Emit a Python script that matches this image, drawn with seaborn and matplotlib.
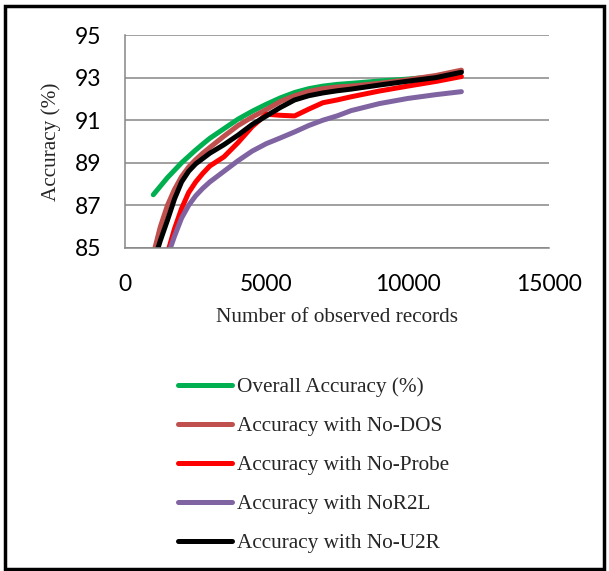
import numpy as np
import pandas as pd
import seaborn as sns
import matplotlib.pyplot as plt
from matplotlib.patches import Rectangle

# data
records = [1000, 1250, 1500, 1750, 2000, 2250, 2500, 2750, 3000, 3500, 4000, 4500,
           5000, 5500, 6000, 6500, 7000, 7500, 8000, 9000, 10000, 11000, 11900]
overall = [87.5, 87.9, 88.3, 88.65, 89.0, 89.3, 89.6, 89.88, 90.15, 90.6, 91.05, 91.42,
           91.75, 92.05, 92.3, 92.48, 92.6, 92.68, 92.73, 92.84, 92.93, 93.05, 93.3]
no_dos = [84.7, 86.0, 87.0, 87.75, 88.35, 88.8, 89.15, 89.45, 89.72, 90.25, 90.75, 91.15,
          91.5, 91.88, 92.15, 92.35, 92.48, 92.56, 92.6, 92.73, 92.9, 93.1, 93.35]
no_probe = [82.6, 83.8, 84.75, 85.9, 86.85, 87.6, 88.1, 88.5, 88.85, 89.28, 89.95, 90.7,
            91.28, 91.23, 91.2, 91.52, 91.82, 91.95, 92.1, 92.37, 92.6, 92.82, 93.05]
no_r2l = [82.3, 83.5, 84.6, 85.55, 86.4, 87.0, 87.45, 87.8, 88.1, 88.6, 89.1, 89.55,
          89.9, 90.17, 90.45, 90.75, 91.0, 91.2, 91.45, 91.78, 92.02, 92.2, 92.34]
no_u2r = [84.3, 85.35, 86.3, 87.3, 88.1, 88.6, 88.95, 89.2, 89.45, 89.85, 90.3, 90.8,
          91.2, 91.6, 91.95, 92.15, 92.28, 92.38, 92.46, 92.65, 92.83, 93.0, 93.25]

names = ['Overall Accuracy (%)', 'Accuracy with No-DOS', 'Accuracy with No-Probe',
         'Accuracy with NoR2L', 'Accuracy with No-U2R']
colors = ['#00B050', '#C0504D', '#FF0000', '#8064A2', '#000000']
series = [overall, no_dos, no_probe, no_r2l, no_u2r]

df = pd.DataFrame({
    'records': records * len(names),
    'accuracy': sum(series, []),
    'series': np.repeat(names, len(records)),
})

serif = 'Liberation Serif'

sns.set_style('white')
fig = plt.figure(figsize=(6.09, 5.71), dpi=100)
ax = fig.add_axes([0.2053, 0.5657, 0.6962, 0.3730])

sns.lineplot(data=df, x='records', y='accuracy', hue='series', hue_order=names,
             palette=colors, linewidth=3.6, ax=ax, legend=False)
for ln in ax.lines:
    ln.set_solid_capstyle('round')
    ln.set_solid_joinstyle('round')

ax.set_xlim(0, 15000)
ax.set_ylim(85, 95)
ax.set_xticks([0, 5000, 10000, 15000])
ax.set_yticks([85, 87, 89, 91, 93, 95])
ax.grid(axis='y', color='#868686', linewidth=1.1)
ax.set_axisbelow(True)
for side in ['top', 'right']:
    ax.spines[side].set_visible(False)
for side in ['left', 'bottom']:
    ax.spines[side].set_color('#868686')
    ax.spines[side].set_linewidth(1.1)
ax.tick_params(axis='both', direction='out', color='#868686', width=1.1,
               labelsize=16.5, labelcolor='black')
ax.tick_params(axis='y', length=7, pad=10)
ax.tick_params(axis='x', length=6, pad=13)
for lab in ax.get_xticklabels() + ax.get_yticklabels():
    lab.set_family('Lato')

ax.set_xlabel('Number of observed records', family=serif, fontsize=15.3, va='top')
ax.set_ylabel('Accuracy (%)', family=serif, fontsize=15.3)
ax.xaxis.set_label_coords(0.5, -0.282)
ax.yaxis.set_label_coords(-0.152, 0.5)

handles = list(ax.lines)
fig.legend(handles, names, loc='upper left', bbox_to_anchor=(0.261, 0.373),
           frameon=False, prop={'family': serif, 'size': 15.3},
           handlelength=2.55, handletextpad=0.2, labelspacing=0.9)

fig.patches.append(Rectangle((0.009, 0.004), 0.982, 0.986, transform=fig.transFigure,
                             fill=False, edgecolor='black', linewidth=2.5))

fig.savefig('out.png', dpi=100)
